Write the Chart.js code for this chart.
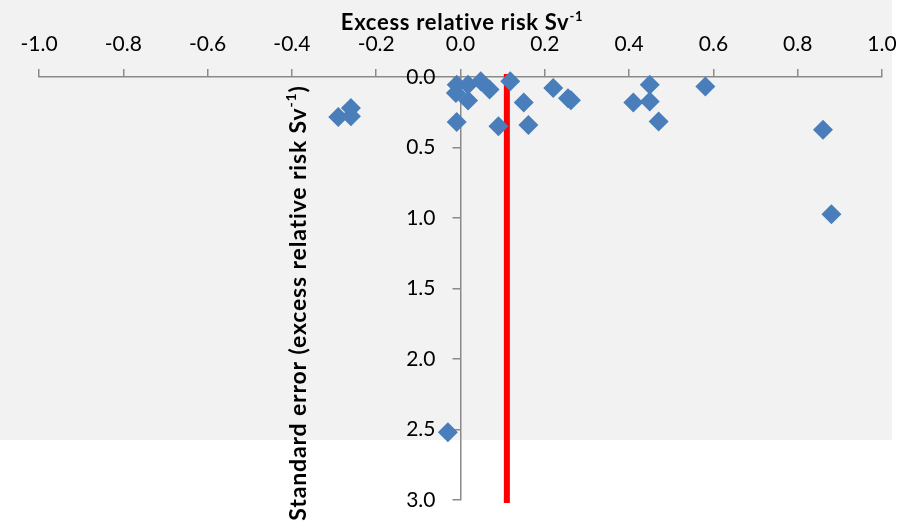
<!DOCTYPE html>
<html>
<head>
<meta charset="utf-8">
<title>Excess relative risk vs standard error</title>
<script src="https://cdn.jsdelivr.net/npm/chart.js@4.4.1/dist/chart.umd.min.js"></script>
<style>
  html, body { margin: 0; padding: 0; background: #fff; }
  #wrap { position: relative; width: 915px; height: 521px; }
</style>
</head>
<body>
<div id="wrap"><canvas id="chart" width="915" height="521"></canvas></div>
<script>
  /* ---------- data ---------- */
  // excess relative risk per Sv, one entry per study
  const studyERR = [
    -0.29, -0.26, -0.26, -0.009, -0.011, 0.018, 0.018, 0.048, 0.069,
    0.118, 0.15, 0.22, 0.255, 0.262, -0.009, 0.09, 0.161, 0.41,
    0.449, 0.449, 0.47, 0.581, 0.86, 0.88, -0.03
  ];
  // standard error of each estimate
  const studySE = [
    0.284, 0.22, 0.278, 0.055, 0.114, 0.055, 0.166, 0.031, 0.088,
    0.031, 0.18, 0.078, 0.15, 0.165, 0.32, 0.35, 0.34, 0.18,
    0.055, 0.173, 0.315, 0.067, 0.374, 0.973, 2.52
  ];
  // pooled estimate, drawn as the red vertical line
  const pooledERR = [0.11, 0.11];
  const pooledSE = [0, 3];

  const xRange = [-1, 1];
  const xStep = 0.2;
  const yRange = [0, 3];
  const yStep = 0.5;

  /* ---------- look ---------- */
  const FONT = "Lato, 'Open Sans', sans-serif";
  const BLUE = "#4a7ebb";
  const RED = "#ff0000";
  const AXIS = "#8a8a8a";

  function fmt(v) {
    return Math.abs(v) < 1e-9 ? "0.0" : v.toFixed(1);
  }

  // grey panel behind the upper part of the figure
  const panel = {
    id: "panel",
    beforeDraw(chart) {
      const ctx = chart.ctx;
      ctx.save();
      ctx.fillStyle = "#f2f2f2";
      ctx.fillRect(0, 0, 892, 440);
      ctx.restore();
    },
  };

  // the y axis crosses at x = 0, labels sit to its left
  const centreYAxis = {
    id: "centreYAxis",
    afterLayout(chart) {
      const px = chart.scales.x.getPixelForValue(0);
      chart.scales.y.left = 0; // label clip box
      chart.scales.y.right = px;
    },
  };

  // bold text with a superscript part
  function drawRich(ctx, parts, size, spacing, cx, baseline) {
    const supSize = Math.round(size * 0.6);
    let total = 0;
    parts.forEach((p) => {
      ctx.font = "bold " + (p.sup ? supSize : size) + "px " + FONT;
      ctx.letterSpacing = spacing + "px";
      p.w = ctx.measureText(p.text).width;
      total += p.w;
    });
    let x = cx - total / 2;
    parts.forEach((p) => {
      ctx.font = "bold " + (p.sup ? supSize : size) + "px " + FONT;
      ctx.letterSpacing = spacing + "px";
      ctx.fillText(p.text, x, p.sup ? baseline - size * 0.42 : baseline);
      x += p.w;
    });
  }

  const titles = {
    id: "titles",
    afterDraw(chart) {
      const ctx = chart.ctx;
      ctx.save();
      ctx.fillStyle = "#000";
      ctx.textAlign = "left";
      ctx.textBaseline = "alphabetic";
      drawRich(ctx, [{ text: "Excess relative risk Sv" }, { text: "-1", sup: true }], 22, 0.7, 462, 30);

      ctx.translate(306, 303);
      ctx.rotate(-Math.PI / 2);
      drawRich(ctx, [
        { text: "Standard error (excess relative risk Sv" },
        { text: "-1", sup: true },
        { text: ")" },
      ], 23, 0.85, 0, 0);
      ctx.restore();
    },
  };

  new Chart(document.getElementById("chart"), {
    type: "scatter",
    data: {
      datasets: [
        {
          label: "Studies",
          data: studyERR.map((x, i) => ({ x: x, y: studySE[i] })),
          pointStyle: "rectRot",
          pointRadius: 10,
          pointBackgroundColor: BLUE,
          pointBorderColor: BLUE,
          pointBorderWidth: 0,
          clip: false,
          order: 0,
        },
        {
          type: "line",
          label: "Pooled estimate",
          data: pooledERR.map((x, i) => ({ x: x, y: pooledSE[i] })),
          borderColor: RED,
          borderWidth: 6,
          borderCapStyle: "square",
          pointRadius: 0,
          fill: false,
          clip: false,
          order: 1,
        },
      ],
    },
    options: {
      responsive: false,
      animation: false,
      layout: { padding: { left: 39, right: 33, top: 0, bottom: 21 } },
      plugins: { legend: { display: false }, tooltip: { enabled: false } },
      scales: {
        x: {
          type: "linear",
          position: "top",
          min: xRange[0],
          max: xRange[1],
          ticks: {
            stepSize: xStep,
            color: "#000",
            padding: 12,
            font: { family: FONT, size: 21 },
            callback: (v) => fmt(v),
          },
          grid: { drawOnChartArea: false, tickLength: 8, color: AXIS, lineWidth: 1.5 },
          border: { color: AXIS, width: 1.5 },
          afterFit(s) { s.height = 77; },
        },
        y: {
          type: "linear",
          position: "left",
          reverse: true,
          min: yRange[0],
          max: yRange[1],
          ticks: {
            stepSize: yStep,
            color: "#000",
            padding: 17,
            font: { family: FONT, size: 21 },
            callback: (v) => fmt(v),
          },
          grid: { drawOnChartArea: false, tickLength: 8, color: AXIS, lineWidth: 1.5 },
          border: { color: AXIS, width: 1.5 },
          afterFit(s) {
            s.width = 0;
            s.paddingTop = 0;
            s.paddingBottom = 0;
          },
        },
      },
    },
    plugins: [panel, centreYAxis, titles],
  });
</script>
</body>
</html>
